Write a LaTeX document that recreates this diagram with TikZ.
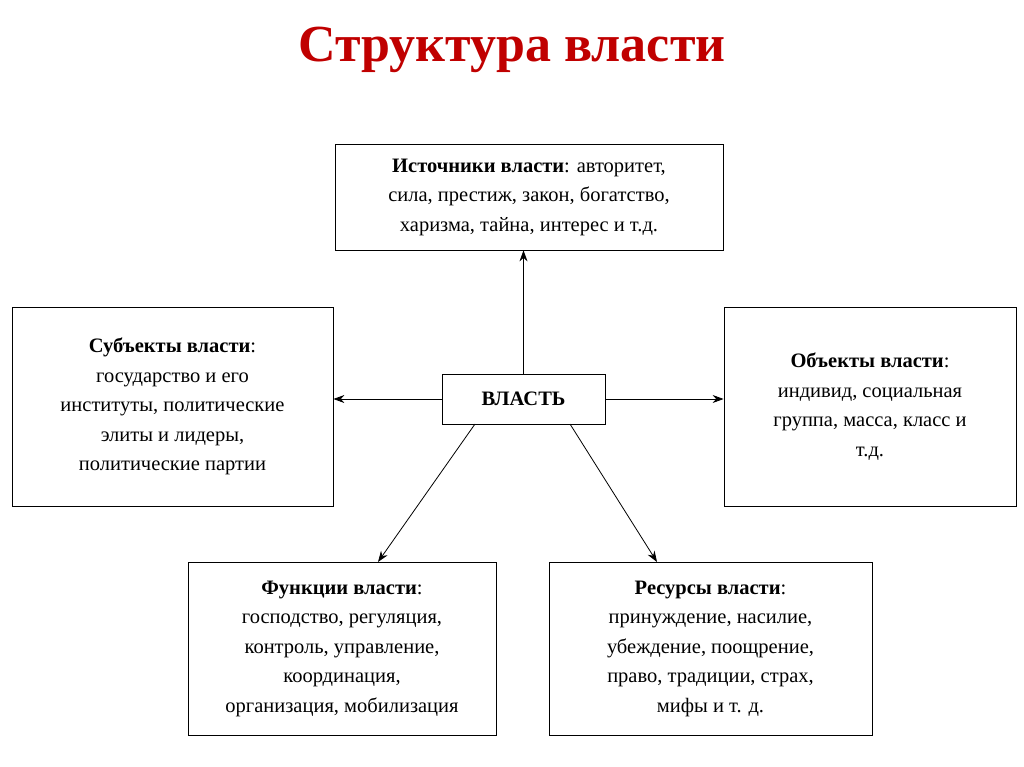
\documentclass[tikz,border=0pt]{standalone}
\usepackage{fontspec}
\setmainfont{Liberation Serif}
\usetikzlibrary{arrows.meta}
\definecolor{titlered}{HTML}{C00000}
\begin{document}
\begin{tikzpicture}[x=1pt,y=-1pt,
  box/.style={draw,line width=0.8pt,align=center,font=\fontsize{20.5}{29.5}\selectfont},
  conn/.style={-{Stealth[length=11pt,width=8pt]},line width=0.8pt}]
\useasboundingbox (0,0) rectangle (1024,767);
\node[text=titlered,font=\fontsize{52}{60}\selectfont\bfseries] (title) at (512,50) {Структура власти};
\node[box,minimum width=388pt,minimum height=106pt] (src) at (529,197) {\textbf{Источники власти}: авторитет,\\сила, престиж, закон, богатство,\\харизма, тайна, интерес и т.д.};
\node[box,minimum width=321pt,minimum height=199pt] (subj) at (172.5,406.5) {\textbf{Субъекты власти}:\\государство и его\\институты, политические\\элиты и лидеры,\\политические партии};
\node[box,minimum width=292pt,minimum height=199pt] (obj) at (870,406.5) {\textbf{Объекты власти}:\\индивид, социальная\\группа, масса, класс и\\т.д.};
\node[box,minimum width=163pt,minimum height=50pt,font=\fontsize{20.5}{29}\selectfont\bfseries] (pow) at (523.5,399) {ВЛАСТЬ};
\node[box,minimum width=308pt,minimum height=173pt] (fun) at (342,648.5) {\textbf{Функции власти}:\\господство, регуляция,\\контроль, управление,\\координация,\\организация, мобилизация};
\node[box,minimum width=323pt,minimum height=173pt] (res) at (710.5,648.5) {\textbf{Ресурсы власти}:\\принуждение, насилие,\\убеждение, поощрение,\\право, традиции, страх,\\мифы и т. д.};
\draw[conn] (pow.north) -- (pow.north |- src.south);
\draw[conn] (pow.west) -- (subj.east |- pow.west);
\draw[conn] (pow.east) -- (obj.west |- pow.east);
\coordinate (a1) at (475,424); \coordinate (a2) at (570,424);
\draw[conn] (a1) -- (378,562);
\draw[conn] (a2) -- (657,562);
\end{tikzpicture}
\end{document}
